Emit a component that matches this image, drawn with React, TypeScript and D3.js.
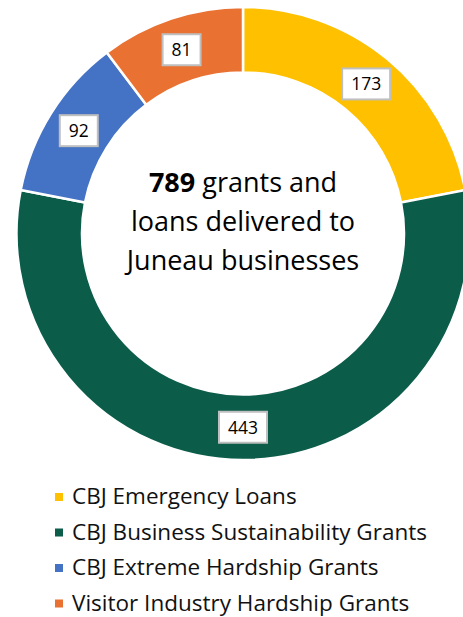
import React from "react";
import * as d3 from "d3";

const categories = [
  "CBJ Emergency Loans",
  "CBJ Business Sustainability Grants",
  "CBJ Extreme Hardship Grants",
  "Visitor Industry Hardship Grants",
];
const values = [173, 443, 92, 81];
const colors = ["#FFC000", "#0C5C4A", "#4472C4", "#E97132"];
const centerLines = ["grants and", "loans delivered to", "Juneau businesses"];

const W = 463;
const H = 617;
const FONT = "'Open Sans', Lato, sans-serif";

export default function App() {
  const cx = 243;
  const cy = 233.5;
  const rOuter = 226.5;
  const rInner = 161;
  const total = d3.sum(values);

  const pie = d3
    .pie<number>()
    .sort(null)
    .value((d) => d)
    .startAngle(0)
    .endAngle(2 * Math.PI);
  const arcs = pie(values);
  const arc = d3.arc<d3.PieArcDatum<number>>().innerRadius(rInner).outerRadius(rOuter);
  const labelArc = d3
    .arc<d3.PieArcDatum<number>>()
    .innerRadius((rInner + rOuter) / 2)
    .outerRadius((rInner + rOuter) / 2);

  const legendY = d3.scaleBand<string>().domain(categories).range([486, 628]);

  return (
    <svg
      width={W}
      height={H}
      style={{ position: "absolute", left: 0, top: 0, background: "#fff" }}
      fontFamily={FONT}
    >
      <g transform={`translate(${cx},${cy})`}>
        {arcs.map((a, i) => (
          <path key={i} d={arc(a) || ""} fill={colors[i]} stroke="#fff" strokeWidth={2.5} />
        ))}
        {arcs.map((a, i) => {
          const [lx, ly] = labelArc.centroid(a);
          const txt = String(values[i]);
          const bw = txt.length === 3 ? 48 : 38;
          const bh = 31;
          return (
            <g key={"l" + i} transform={`translate(${lx},${ly})`}>
              <rect
                x={-bw / 2}
                y={-bh / 2}
                width={bw}
                height={bh}
                fill="#fff"
                stroke="#BFBFBF"
                strokeWidth={2}
              />
              <text textAnchor="middle" dy="0.36em" fontSize={17.5} fill="#000">
                {txt}
              </text>
            </g>
          );
        })}
        <text textAnchor="middle" fontSize={27} fill="#000">
          <tspan x={0} y={192 - cy}>
            <tspan fontWeight="bold">{total}</tspan>
            {" " + centerLines[0]}
          </tspan>
          <tspan x={0} y={231 - cy}>
            {centerLines[1]}
          </tspan>
          <tspan x={0} y={270 - cy}>
            {centerLines[2]}
          </tspan>
        </text>
      </g>
      <g>
        {categories.map((c, i) => {
          const y = (legendY(c) || 0) + 18;
          return (
            <g key={c}>
              <rect x={55} y={y - 11} width={8} height={8} fill={colors[i]} />
              <text x={72} y={y} fontSize={22.5} fill="#111">
                {c}
              </text>
            </g>
          );
        })}
      </g>
    </svg>
  );
}
